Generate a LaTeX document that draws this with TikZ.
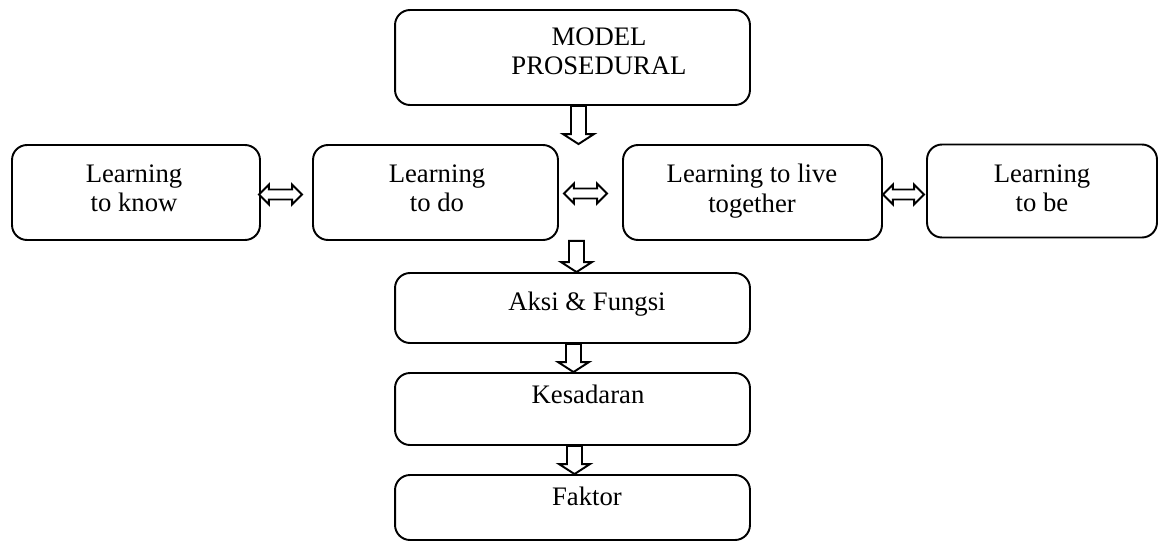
\documentclass[tikz,border=0pt]{standalone}
\usepackage{fontspec}
\setmainfont{Liberation Serif}
\usetikzlibrary{calc}

% hollow block arrows between boxes
\newcommand{\blkdown}[2]{%
  \draw[blk] let \p1=(#1), \p2=(#2) in
    (\x1-0.15cm,\y1) -- (\x1-0.15cm,\y2+0.2cm) -- (\x1-0.31cm,\y2+0.2cm)
    -- (\x1,\y2) -- (\x1+0.31cm,\y2+0.2cm) -- (\x1+0.15cm,\y2+0.2cm)
    -- (\x1+0.15cm,\y1) -- cycle;}
\newcommand{\blkboth}[2]{%
  \draw[blk] let \p1=(#1), \p2=(#2) in
    (\x1,\y1) -- (\x1+0.2cm,\y1+0.2cm) -- (\x1+0.2cm,\y1+0.1cm)
    -- (\x2-0.2cm,\y1+0.1cm) -- (\x2-0.2cm,\y1+0.2cm) -- (\x2,\y1)
    -- (\x2-0.2cm,\y1-0.2cm) -- (\x2-0.2cm,\y1-0.1cm)
    -- (\x1+0.2cm,\y1-0.1cm) -- (\x1+0.2cm,\y1-0.2cm) -- cycle;}

\begin{document}
\begin{tikzpicture}[x=0.02cm,y=-0.02cm,
    box/.style={draw,line width=1.1pt,rounded corners=0.3cm,inner sep=0pt},
    txt/.style={anchor=north,inner sep=0pt,align=center,
                font=\fontsize{15.2}{16.8}\selectfont},
    blk/.style={draw,fill=white,line width=1.1pt,line join=miter}]
  \useasboundingbox (0,0) rectangle (1160,542);

  \node[box,minimum width=7.1cm,minimum height=1.9cm]  (model)  at (572.5,57.5) {};
  \node[box,minimum width=4.96cm,minimum height=1.9cm] (know)   at (136,192.5)  {};
  \node[box,minimum width=4.9cm,minimum height=1.9cm]  (do)     at (435.5,192.5) {};
  \node[box,minimum width=5.18cm,minimum height=1.9cm] (live)   at (752.5,192.5) {};
  \node[box,minimum width=4.6cm,minimum height=1.86cm] (be)     at (1042,191)   {};
  \node[box,minimum width=7.1cm,minimum height=1.4cm]  (aksi)   at (572.5,308)  {};
  \node[box,minimum width=7.1cm,minimum height=1.44cm] (kes)    at (572.5,409)  {};
  \node[box,minimum width=7.1cm,minimum height=1.3cm]  (faktor) at (572.5,507.5) {};

  \node[txt] (modeltxt)  at (599,27)  {MODEL\\PROSEDURAL};
  \node[txt] (knowtxt)   at (134,164) {Learning\\to know};
  \node[txt] (dotxt)     at (437,164) {Learning\\to do};
  \node[txt] (livetxt)   at (752,164) {Learning to live\\together};
  \node[txt] (betxt)     at (1042,164) {Learning\\to be};
  \node[txt] (aksitxt)   at (587,292) {Aksi \& Fungsi};
  \node[txt] (kestxt)    at (588,385) {Kesadaran};
  \node[txt] (faktortxt) at (587,487) {Faktor};

  \coordinate (a1) at ($(model.south)+(6,0)$);
  \coordinate (a2) at ($(aksi.north)+(4,0)$);
  \coordinate (a3) at ($(kes.north)+(1,0)$);
  \coordinate (a4) at ($(faktor.north)+(2,0)$);

  \blkdown{a1}{a1 |- do.north}
  \blkdown{a2 |- do.south}{a2}
  \blkdown{a3 |- aksi.south}{a3}
  \blkdown{a4 |- kes.south}{a4}

  \blkboth{$(know.east)+(-2,2)$}{$(do.west)+(-10,2)$}
  \blkboth{$(do.east)+(5,1)$}{$(live.west)+(-15,1)$}
  \blkboth{$(live.east)+(0,2)$}{$(be.west)+(-2,2)$}
\end{tikzpicture}
\end{document}
